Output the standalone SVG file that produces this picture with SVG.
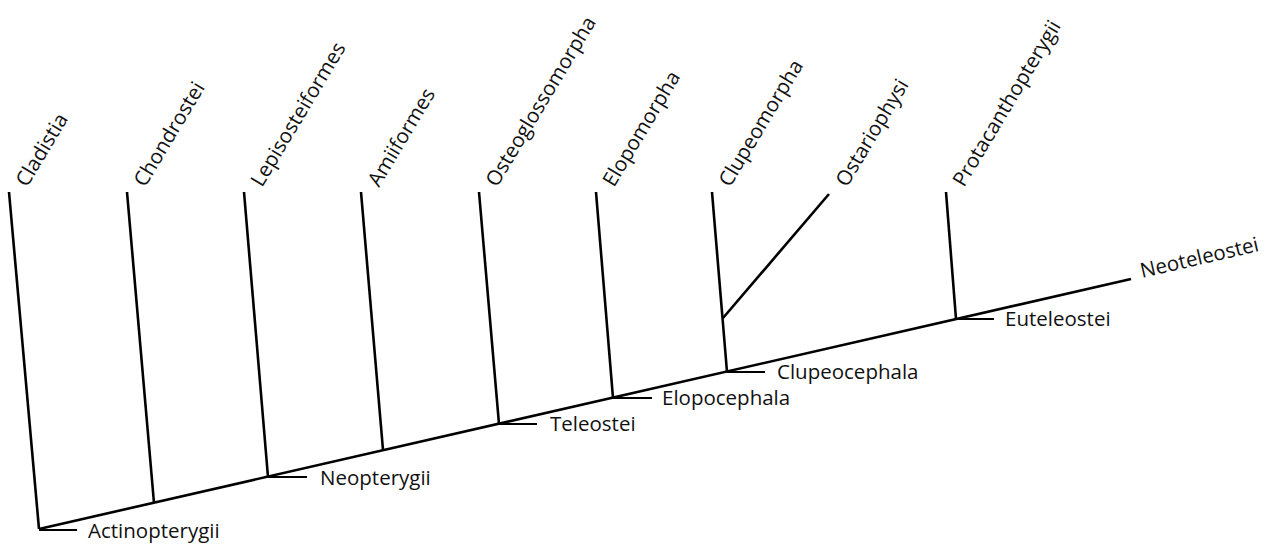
<svg xmlns="http://www.w3.org/2000/svg" width="1277" height="545" viewBox="0 0 1277 545">
<style>
.br{stroke:#000;stroke-width:2.6;fill:none;stroke-linecap:butt}
.tk{stroke:#000;stroke-width:2.2;fill:none}
text{font-family:"Open Sans","Liberation Sans",sans-serif;font-size:20.5px;fill:#111}
</style>
<rect width="1277" height="545" fill="#fff"/>
<g id="connectors">
<line class="br" x1="39" y1="529" x2="1131" y2="279"/>
<line class="br" x1="9" y1="192" x2="39" y2="529"/>
<line class="br" x1="127" y1="192" x2="154" y2="503"/>
<line class="br" x1="244" y1="192" x2="268" y2="477"/>
<line class="br" x1="361" y1="192" x2="383" y2="450"/>
<line class="br" x1="479" y1="192" x2="499" y2="424"/>
<line class="br" x1="596" y1="192" x2="613" y2="398"/>
<line class="br" x1="712" y1="192" x2="727" y2="372"/>
<line class="br" x1="723" y1="318" x2="829" y2="194"/>
<line class="br" x1="946" y1="192" x2="956" y2="319"/>
<line class="tk" x1="39" y1="530" x2="77" y2="530"/>
<line class="tk" x1="268" y1="477" x2="307" y2="477"/>
<line class="tk" x1="499" y1="424" x2="537" y2="424"/>
<line class="tk" x1="613" y1="398" x2="652" y2="398"/>
<line class="tk" x1="727" y1="372" x2="765" y2="372"/>
<line class="tk" x1="956" y1="319" x2="994" y2="319"/>
</g>
<g id="Cladistia"><text transform="translate(27,188) rotate(-59)">Cladistia</text></g>
<g id="Chondrostei"><text transform="translate(145,188) rotate(-59)">Chondrostei</text></g>
<g id="Lepisosteiformes"><text transform="translate(262,188) rotate(-59)">Lepisosteiformes</text></g>
<g id="Amiiformes"><text transform="translate(379,188) rotate(-59)">Amiiformes</text></g>
<g id="Osteoglossomorpha"><text transform="translate(497,188) rotate(-59)">Osteoglossomorpha</text></g>
<g id="Elopomorpha"><text transform="translate(614,188) rotate(-59)">Elopomorpha</text></g>
<g id="Clupeomorpha"><text transform="translate(730,188) rotate(-59)">Clupeomorpha</text></g>
<g id="Ostariophysi"><text transform="translate(847,188) rotate(-59)">Ostariophysi</text></g>
<g id="Protacanthopterygii"><text transform="translate(964,188) rotate(-59)">Protacanthopterygii</text></g>
<g id="Neoteleostei"><text transform="translate(1142,278) rotate(-13)">Neoteleostei</text></g>
<g id="Actinopterygii"><text x="88" y="538">Actinopterygii</text></g>
<g id="Neopterygii"><text x="320" y="485">Neopterygii</text></g>
<g id="Teleostei"><text x="550" y="431">Teleostei</text></g>
<g id="Elopocephala"><text x="662" y="405">Elopocephala</text></g>
<g id="Clupeocephala"><text x="777" y="379">Clupeocephala</text></g>
<g id="Euteleostei"><text x="1005" y="326">Euteleostei</text></g>
</svg>
